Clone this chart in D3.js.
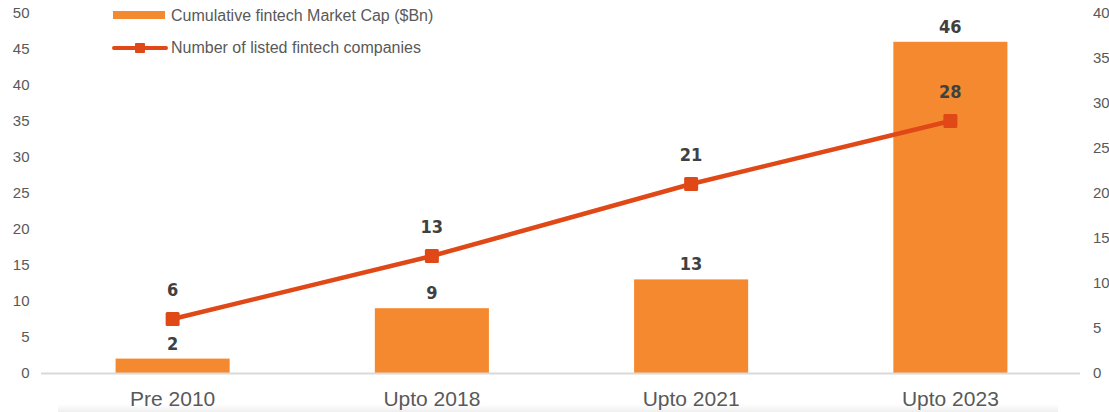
<!DOCTYPE html>
<html>
<head>
<meta charset="utf-8">
<script src="https://cdn.jsdelivr.net/npm/d3@7"></script>
<style>
  html, body { margin: 0; padding: 0; background: #fff; overflow: hidden; }
  svg { display: block; }
</style>
</head>
<body>
<svg id="chart" width="1109" height="412"></svg>
<script>
// Chart data
const categories = ["Pre 2010", "Upto 2018", "Upto 2021", "Upto 2023"];
const marketCap = [2, 9, 13, 46];          // Cumulative fintech Market Cap ($Bn)
const listedCompanies = [6, 13, 21, 28];   // Number of listed fintech companies
const leftTicks = [0, 5, 10, 15, 20, 25, 30, 35, 40, 45, 50];
const rightTicks = [0, 5, 10, 15, 20, 25, 30, 35, 40];
const seriesNames = ["Cumulative fintech Market Cap ($Bn)", "Number of listed fintech companies"];

const W = 1109, H = 412;
const plot = { left: 43, right: 1080, top: 13, bottom: 373 };
const barColor = "#f5892f";
const lineColor = "#e04917";
const axisText = "#595959";
const labelText = "#404040";
const sansFont = "Arial, 'Liberation Sans', sans-serif";

const svg = d3.select("#chart");

// soft shading strip along the bottom edge
const grad = svg.append("defs").append("linearGradient")
  .attr("id", "bottomShade").attr("x1", 0).attr("x2", 0).attr("y1", 0).attr("y2", 1);
grad.append("stop").attr("offset", "0%").attr("stop-color", "#ffffff");
grad.append("stop").attr("offset", "100%").attr("stop-color", "#efefef");
svg.append("rect").attr("x", 58).attr("y", 404).attr("width", 1000).attr("height", 8)
  .attr("fill", "url(#bottomShade)");

const x = d3.scaleBand().domain(categories).range([plot.left, plot.right]).paddingInner(0.56).paddingOuter(0.28);
const yL = d3.scaleLinear().domain([0, 50]).range([plot.bottom, plot.top]);
const yR = d3.scaleLinear().domain([0, 40]).range([plot.bottom, plot.top]);

// Left axis
const leftAxis = svg.append("g").attr("transform", `translate(29.5,0)`)
  .call(d3.axisLeft(yL).tickValues(leftTicks).tickSize(0).tickPadding(0));
leftAxis.select(".domain").remove();
leftAxis.selectAll("text").attr("fill", axisText)
  .style("font-family", sansFont).style("font-size", "15px");

// Right axis
const rightAxis = svg.append("g").attr("transform", `translate(1093,0)`)
  .call(d3.axisRight(yR).tickValues(rightTicks).tickSize(0).tickPadding(0));
rightAxis.select(".domain").remove();
rightAxis.selectAll("text").attr("fill", axisText)
  .style("font-family", sansFont).style("font-size", "15px");

// Bars
svg.append("g").selectAll("rect").data(categories).join("rect")
  .attr("x", d => x(d))
  .attr("width", x.bandwidth())
  .attr("y", (d, i) => yL(marketCap[i]))
  .attr("height", (d, i) => yL(0) - yL(marketCap[i]))
  .attr("fill", barColor);

// Category axis
const bottomAxis = svg.append("g").attr("transform", `translate(0,${plot.bottom})`)
  .call(d3.axisBottom(x).tickSize(0).tickPadding(18));
bottomAxis.select(".domain").attr("d", `M41,0.5H1080`).attr("stroke", "#d9d9d9").attr("stroke-width", 2);
bottomAxis.selectAll("text").attr("fill", axisText)
  .style("font-family", sansFont).style("font-size", "21px");

// Line series
const cx = d => x(d) + x.bandwidth() / 2;
const line = d3.line().x((d, i) => cx(categories[i])).y(d => yR(d));
svg.append("path").datum(listedCompanies)
  .attr("d", line).attr("fill", "none").attr("stroke", lineColor).attr("stroke-width", 4.5);
svg.append("g").selectAll("rect").data(listedCompanies).join("rect")
  .attr("x", (d, i) => cx(categories[i]) - 7)
  .attr("y", d => yR(d) - 7)
  .attr("width", 14).attr("height", 14).attr("rx", 1.5)
  .attr("fill", lineColor);

// Data labels
const labelFont = "'DejaVu Sans Condensed', 'Roboto', sans-serif";
svg.append("g").selectAll("text").data(marketCap).join("text")
  .attr("x", (d, i) => cx(categories[i]))
  .attr("y", d => yL(d) - 9)
  .attr("text-anchor", "middle")
  .attr("fill", labelText)
  .style("font-family", labelFont).style("font-weight", "bold").style("font-size", "18px")
  .text(d => d);
svg.append("g").selectAll("text").data(listedCompanies).join("text")
  .attr("x", (d, i) => cx(categories[i]))
  .attr("y", d => yR(d) - 23)
  .attr("text-anchor", "middle")
  .attr("fill", labelText)
  .style("font-family", labelFont).style("font-weight", "bold").style("font-size", "18px")
  .text(d => d);

// Legend
const legend = svg.append("g");
legend.append("rect").attr("x", 113).attr("y", 11).attr("width", 52).attr("height", 8).attr("fill", barColor);
legend.append("line").attr("x1", 114).attr("x2", 166).attr("y1", 48).attr("y2", 48)
  .attr("stroke", lineColor).attr("stroke-width", 4).attr("stroke-linecap", "round");
legend.append("rect").attr("x", 135).attr("y", 43).attr("width", 10).attr("height", 10).attr("rx", 1)
  .attr("fill", lineColor);
legend.selectAll("text").data(seriesNames).join("text")
  .attr("x", 171)
  .attr("y", (d, i) => i === 0 ? 15 : 47.5)
  .attr("dy", "0.35em")
  .attr("fill", axisText)
  .style("font-family", sansFont).style("font-size", "16px")
  .text(d => d);
</script>
</body>
</html>
